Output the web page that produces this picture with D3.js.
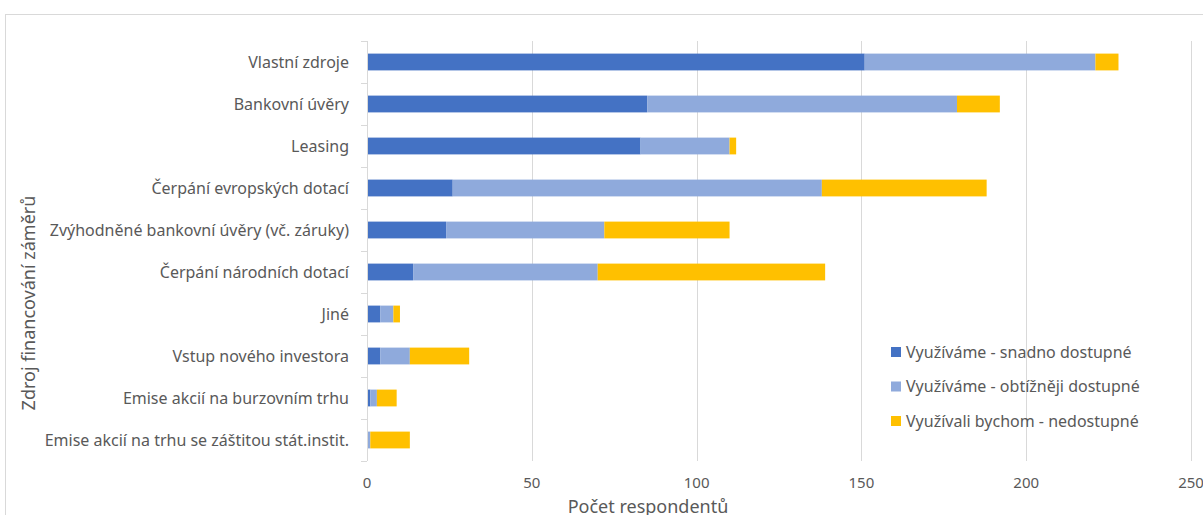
<!DOCTYPE html>
<html>
<head>
<meta charset="utf-8">
<script src="https://cdn.jsdelivr.net/npm/d3@7"></script>
<style>
  body { margin: 0; background: #fff; }
  text { font-family: "Noto Sans", "Open Sans", sans-serif; fill: #595959; }
</style>
</head>
<body>
<div id="chart"></div>
<script>
var categories = [
  "Vlastní zdroje",
  "Bankovní úvěry",
  "Leasing",
  "Čerpání evropských dotací",
  "Zvýhodněné bankovní úvěry (vč. záruky)",
  "Čerpání národních dotací",
  "Jiné",
  "Vstup nového investora",
  "Emise akcií na burzovním trhu",
  "Emise akcií na trhu se záštitou stát.instit."
]
var snadno = [151, 85, 83, 26, 24, 14, 4, 4, 1, 0]
var obtizneji = [70, 94, 27, 112, 48, 56, 4, 9, 2, 1]
var nedostupne = [7, 13, 2, 50, 38, 69, 2, 18, 6, 12]
var seriesNames = ["Využíváme - snadno dostupné", "Využíváme - obtížněji dostupné", "Využívali bychom - nedostupné"]
var xTicks = [0, 50, 100, 150, 200, 250]

var colors = ["#4472C4", "#8FAADC", "#FFC000"]
var w = 1203, h = 515
var plotL = 367, plotR = 1191, plotT = 41, plotB = 461

var svg = d3.select('#chart').append('svg')
  .attr('width', w)
  .attr('height', h)

// chart area border
svg.append('rect')
  .attr('x', 5.5).attr('y', 14.5)
  .attr('width', w + 20).attr('height', h + 20)
  .attr('fill', 'none')
  .attr('stroke', '#d9d9d9')

var x = d3.scaleLinear().domain([0, 250]).range([plotL, plotR])
var y = d3.scaleBand().domain(categories).range([plotT, plotB]).paddingInner(0.6).paddingOuter(0.3)

// gridlines
svg.append('g').selectAll('line')
  .data(xTicks.slice(1))
  .enter().append('line')
  .attr('x1', function(d){ return Math.round(x(d)) + 0.5 })
  .attr('x2', function(d){ return Math.round(x(d)) + 0.5 })
  .attr('y1', plotT).attr('y2', plotB)
  .attr('stroke', '#d9d9d9')

var rows = categories.map(function(c, i){
  return {cat: c, v: [snadno[i], obtizneji[i], nedostupne[i]]}
})

rows.forEach(function(r){
  var acc = 0
  r.v.forEach(function(v, k){
    svg.append('rect')
      .attr('x', x(acc))
      .attr('y', y(r.cat))
      .attr('width', x(acc + v) - x(acc))
      .attr('height', y.bandwidth())
      .attr('fill', colors[k])
    acc += v
  })
})

// category axis
var step = (plotB - plotT) / categories.length
var ax = svg.append('g')
ax.append('line')
  .attr('x1', plotL + 0.5).attr('x2', plotL + 0.5)
  .attr('y1', plotT).attr('y2', plotB)
  .attr('stroke', '#d9d9d9')
d3.range(categories.length + 1).forEach(function(i){
  ax.append('line')
    .attr('x1', plotL - 6).attr('x2', plotL)
    .attr('y1', Math.round(plotT + i * step) + 0.5)
    .attr('y2', Math.round(plotT + i * step) + 0.5)
    .attr('stroke', '#d9d9d9')
})
ax.selectAll('text.cat')
  .data(categories)
  .enter().append('text')
  .attr('class', 'cat')
  .attr('x', plotL - 18)
  .attr('y', function(d){ return y(d) + y.bandwidth() / 2 })
  .attr('dy', '0.35em')
  .attr('text-anchor', 'end')
  .style('font-size', '16px')
  .text(function(d){ return d })

// value axis labels
svg.append('g').selectAll('text')
  .data(xTicks)
  .enter().append('text')
  .attr('x', function(d){ return x(d) })
  .attr('y', 483)
  .attr('dy', '0.35em')
  .attr('text-anchor', 'middle')
  .style('font-size', '15px')
  .text(function(d){ return d })

svg.append('text')
  .attr('x', 648).attr('y', 513)
  .attr('text-anchor', 'middle')
  .style('font-size', '18px')
  .text('Počet respondentů')

svg.append('text')
  .attr('transform', 'translate(35,303) rotate(-90)')
  .attr('text-anchor', 'middle')
  .style('font-size', '18px')
  .text('Zdroj financování záměrů')

// legend
var lg = svg.append('g')
seriesNames.forEach(function(s, i){
  var ly = 352 + i * 34.5
  lg.append('rect')
    .attr('x', 891).attr('y', ly - 5)
    .attr('width', 10).attr('height', 10)
    .attr('fill', colors[i])
  lg.append('text')
    .attr('x', 906).attr('y', ly)
    .attr('dy', '0.35em')
    .style('font-size', '16px')
    .text(s)
})
</script>
</body>
</html>
